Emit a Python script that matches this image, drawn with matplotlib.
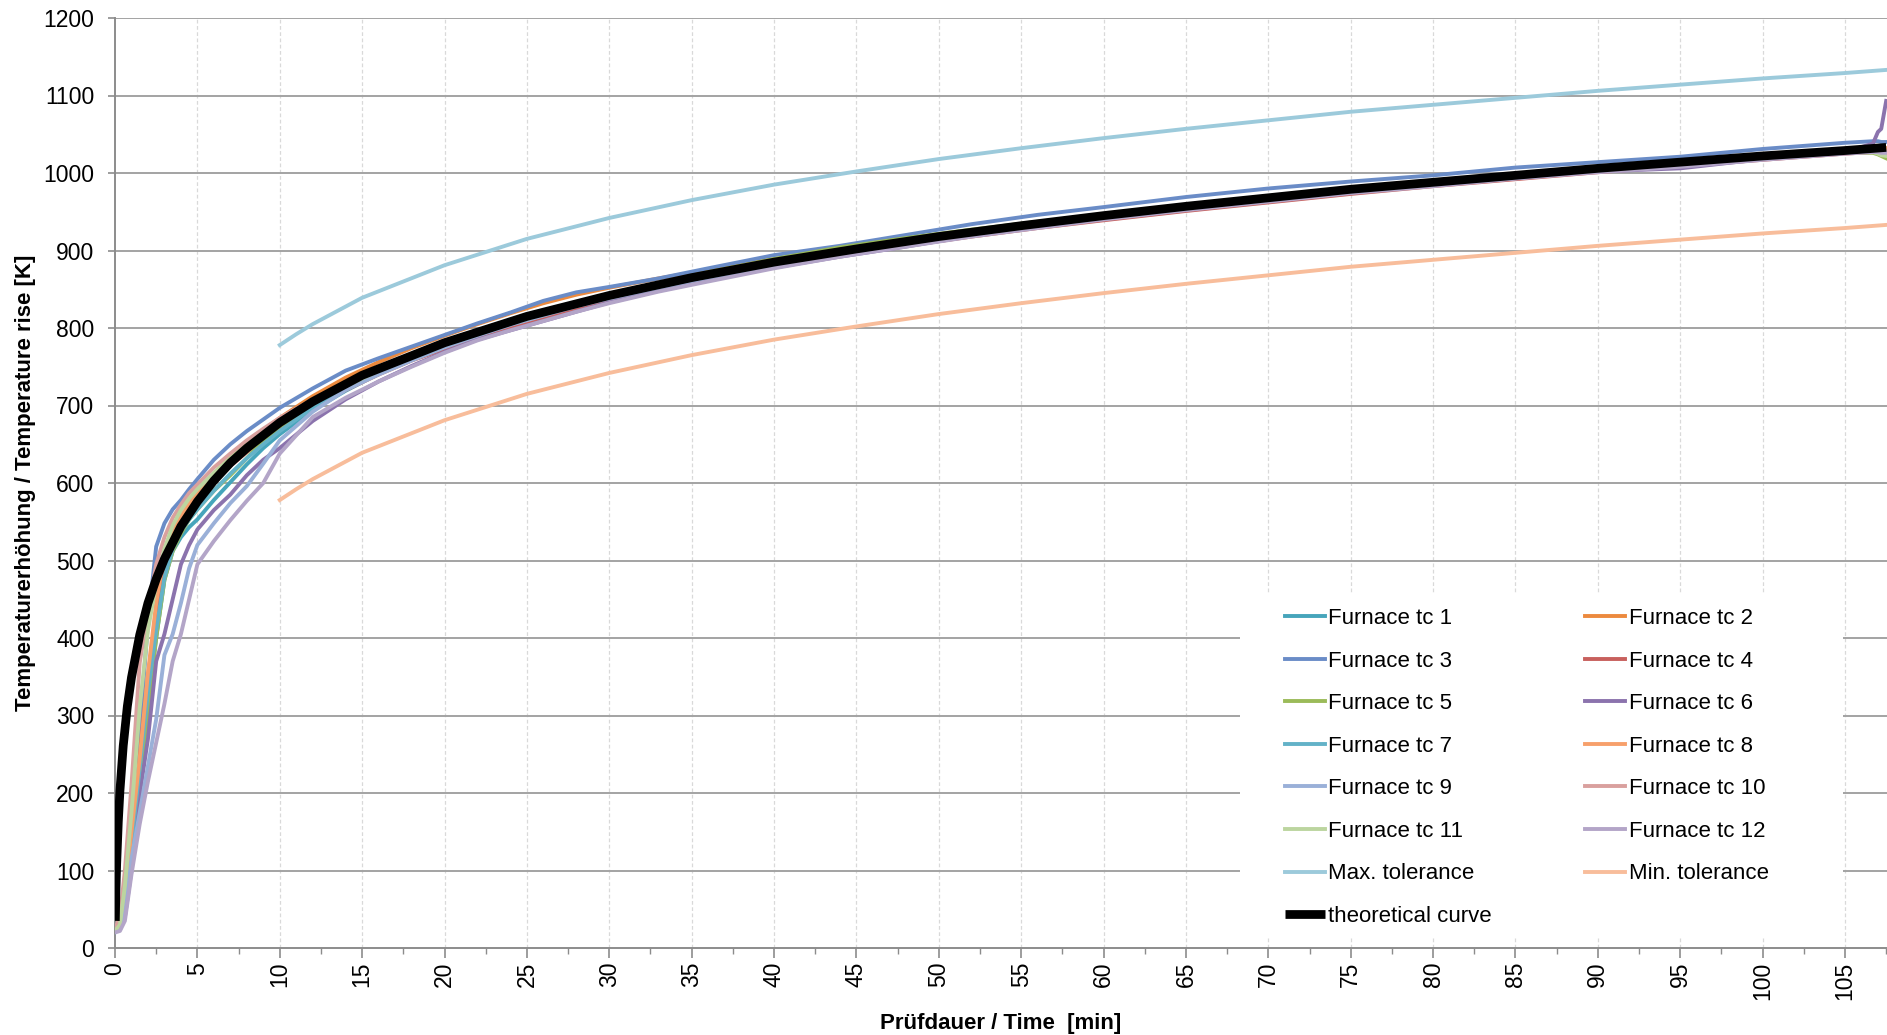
import matplotlib
matplotlib.use("Agg")
import matplotlib.pyplot as plt
from matplotlib.ticker import MultipleLocator
from matplotlib.patches import Rectangle

plt.rcParams['font.family'] = ['Liberation Sans', 'DejaVu Sans']

# ---------------- data ----------------
time_min = [0, 0.3, 0.6, 1, 1.5, 2, 2.5, 3, 3.5, 4, 4.5, 5, 6, 7, 8, 9, 10, 12, 14, 16,
            18, 20, 22, 24, 26, 28, 30, 33, 36, 40, 44, 48, 52, 56, 60, 65, 70, 75, 80, 85,
            90, 95, 100, 105, 106.7, 107.0, 107.2, 107.5]

tc1 = [20, 26, 60, 130, 225, 320, 400, 475, 512, 530, 543, 553, 578, 601, 624, 645, 663, 694, 719, 741,
       760, 777, 792, 806, 818, 830, 840, 855, 868, 883, 897, 910, 922, 933, 943, 955, 966, 977, 986, 995,
       1004, 1012, 1020, 1027, 1029, 1029, 1028, 1027]
tc2 = [21, 27, 65, 140, 240, 345, 435, 500, 532, 555, 572, 587, 612, 633, 652, 668, 684, 712, 736, 756,
       774, 790, 805, 819, 832, 843, 852, 864, 875, 889, 901, 913, 925, 936, 946, 957, 968, 979, 988, 997,
       1006, 1014, 1022, 1029, 1031, 1031, 1032, 1032]
tc3 = [22, 25, 55, 135, 280, 420, 518, 548, 566, 578, 592, 605, 630, 650, 667, 682, 697, 722, 745, 761,
       776, 791, 806, 820, 835, 846, 853, 864, 877, 894, 906, 920, 934, 946, 956, 969, 980, 989, 997, 1007,
       1014, 1021, 1031, 1039, 1041, 1041, 1040, 1040]
tc4 = [21, 28, 68, 145, 250, 350, 430, 490, 525, 548, 565, 578, 602, 622, 640, 657, 671, 698, 720, 740,
       758, 773, 788, 801, 813, 825, 835, 850, 863, 879, 893, 906, 918, 929, 939, 951, 962, 973, 983, 992,
       1001, 1009, 1017, 1025, 1027, 1027, 1026, 1026]
tc5 = [22, 26, 55, 125, 215, 305, 400, 475, 512, 535, 553, 566, 590, 610, 632, 655, 673, 700, 721, 742,
       761, 778, 793, 807, 820, 832, 843, 858, 872, 889, 904, 916, 927, 937, 946, 957, 968, 978, 987, 996,
       1004, 1012, 1020, 1027, 1026, 1024, 1022, 1019]
tc6 = [22, 24, 40, 100, 198, 270, 370, 405, 450, 495, 520, 540, 565, 585, 610, 630, 645, 680, 708, 731,
       751, 769, 785, 797, 809, 821, 833, 848, 861, 878, 892, 905, 919, 930, 941, 953, 964, 975, 984, 994,
       1002, 1006, 1018, 1027, 1038, 1053, 1057, 1093]
tc7 = [22, 27, 62, 135, 232, 330, 410, 478, 515, 538, 553, 566, 590, 612, 632, 650, 667, 697, 721, 743,
       762, 779, 794, 807, 819, 831, 841, 855, 868, 884, 898, 911, 923, 934, 944, 956, 967, 977, 987, 996,
       1005, 1013, 1021, 1028, 1030, 1030, 1029, 1029]
tc8 = [22, 28, 70, 150, 245, 355, 445, 510, 538, 557, 573, 586, 609, 629, 647, 663, 677, 703, 727, 747,
       765, 781, 795, 809, 821, 832, 842, 856, 868, 884, 898, 911, 923, 934, 944, 956, 967, 978, 987, 996,
       1005, 1013, 1021, 1028, 1030, 1030, 1031, 1031]
tc9 = [22, 24, 45, 115, 175, 235, 295, 378, 405, 445, 490, 520, 548, 574, 596, 625, 655, 692, 720, 740,
       758, 775, 790, 804, 816, 828, 838, 852, 865, 881, 895, 908, 920, 931, 941, 953, 964, 975, 984, 993,
       1002, 1010, 1018, 1026, 1028, 1028, 1027, 1027]
tc10 = [25, 40, 100, 210, 368, 435, 495, 530, 555, 572, 587, 598, 620, 638, 655, 670, 684, 708, 730, 749,
        766, 781, 795, 808, 820, 831, 841, 855, 868, 884, 897, 910, 922, 933, 943, 955, 966, 977, 986, 995,
        1004, 1012, 1020, 1027, 1029, 1029, 1028, 1028]
tc11 = [22, 30, 80, 175, 310, 410, 470, 515, 545, 565, 580, 592, 613, 632, 649, 664, 678, 703, 725, 745,
        763, 779, 793, 806, 818, 830, 840, 854, 867, 883, 897, 910, 922, 933, 943, 955, 967, 977, 987, 996,
        1005, 1013, 1021, 1028, 1027, 1025, 1023, 1022]
tc12 = [20, 22, 35, 95, 160, 215, 265, 315, 370, 405, 450, 495, 525, 552, 577, 600, 638, 685, 710, 731,
        750, 768, 784, 797, 809, 821, 832, 847, 860, 877, 892, 905, 918, 929, 940, 952, 963, 974, 983, 993,
        1001, 1008, 1017, 1025, 1027, 1027, 1026, 1026]

tol_time = [10, 11, 12, 15, 20, 25, 30, 35, 40, 45, 50, 55, 60, 65, 70, 75, 80, 85, 90, 95, 100, 105, 107.5]
tol_max = [778, 792, 805, 839, 881, 915, 942, 965, 985, 1002, 1018, 1032, 1045, 1057, 1068, 1079, 1088,
           1097, 1106, 1114, 1122, 1129, 1133]
tol_min = [578, 592, 605, 639, 681, 715, 742, 765, 785, 802, 818, 832, 845, 857, 868, 879, 888,
           897, 906, 914, 922, 929, 933]

theory_time = [0.02, 0.05, 0.1, 0.2, 0.3, 0.5, 0.75, 1, 1.5, 2, 2.5, 3, 4, 5, 6, 7, 8, 10, 12, 15, 20,
               25, 30, 35, 40, 45, 50, 55, 60, 65, 70, 75, 80, 85, 90, 95, 100, 105, 107.5]
theory = [35, 70, 108, 163, 203, 261, 312, 349, 404, 445, 476, 502, 544, 576, 603, 626, 645, 678, 705,
          739, 781, 815, 842, 865, 885, 902, 918, 932, 945, 957, 968, 979, 988, 997, 1006, 1014, 1022,
          1029, 1033]

series_labels = ["Furnace tc %d" % i for i in range(1, 13)]
series_values = [tc1, tc2, tc3, tc4, tc5, tc6, tc7, tc8, tc9, tc10, tc11, tc12]
series_colors = ['#46a5bb', '#ec8a3e', '#6a8cc7', '#c8605d', '#9bbb59', '#8b73ad',
                 '#63b2c8', '#f7a06b', '#9ab0d8', '#d9a09e', '#bcd59f', '#b3a5c8']

x_ticks = list(range(0, 110, 5))
y_ticks = list(range(0, 1300, 100))

# ---------------- figure ----------------
W, H = 1887, 1035
fig = plt.figure(figsize=(W / 100, H / 100), dpi=100)
ax = fig.add_axes([115 / W, 1 - 948 / H, 1 - 115 / W, (948 - 18) / H])

ax.set_axisbelow(True)
for yv in y_ticks[1:]:
    ax.axhline(yv, color='#a3a3a3', lw=1.4, zorder=0.5)
for xv in x_ticks[1:]:
    ax.axvline(xv, color='#d9d9d9', lw=0.9, ls=(0, (3, 2)), zorder=0.4)

for lab, vals, col in zip(series_labels, series_values, series_colors):
    ax.plot(time_min, vals, color=col, lw=2.8, label=lab, solid_joinstyle='round', zorder=2)
ax.plot(tol_time, tol_max, color='#9ccadb', lw=2.8, label='Max. tolerance', zorder=2)
ax.plot(tol_time, tol_min, color='#f8bd9b', lw=2.8, label='Min. tolerance', zorder=2)
ax.plot(theory_time, theory, color='black', lw=6.3, label='theoretical curve', zorder=3,
        solid_capstyle='butt')

ax.set_xlim(0, 107.55)
ax.set_ylim(0, 1200)
ax.set_xticks(x_ticks)
ax.xaxis.set_minor_locator(MultipleLocator(2.5))
ax.set_yticks(y_ticks)

for s in ['top', 'right']:
    ax.spines[s].set_visible(False)
for s in ['left', 'bottom']:
    ax.spines[s].set_color('#8c8c8c')
    ax.spines[s].set_linewidth(1.4)
    ax.spines[s].set_zorder(1)

ax.tick_params(axis='x', which='major', direction='out', length=7, width=1.2, color='#8c8c8c',
               labelsize=16.5, pad=3, labelrotation=90)
ax.tick_params(axis='x', which='minor', direction='out', length=4.5, width=1.0, color='#8c8c8c')
ax.tick_params(axis='y', which='major', direction='out', length=5, width=1.2, color='#8c8c8c',
               labelsize=16.5, pad=10)
for t in ax.get_xticklabels():
    t.set_va('top')
    t.set_ha('center')

fig.text(1001 / W, 1 - 1023 / H, 'Prüfdauer / Time  [min]', ha='center', va='center',
         fontsize=16, fontweight='bold')
fig.text(26 / W, 1 - 483 / H, 'Temperaturerhöhung / Temperature rise [K]', ha='center', va='center',
         rotation=90, fontsize=16, fontweight='bold')

# legend background box
bg = Rectangle((1240 / W, 1 - 937 / H), (1843 - 1240) / W, (937 - 593) / H,
               transform=fig.transFigure, facecolor='white', edgecolor='none', zorder=1.5)
ax.add_patch(bg)

handles, labels = ax.get_legend_handles_labels()
# row-major order for a two-column legend
order = list(range(0, len(handles), 2)) + list(range(1, len(handles), 2))
handles = [handles[i] for i in order]
labels = [labels[i] for i in order]
leg = ax.legend(handles, labels, ncol=2, loc='upper left',
                bbox_to_anchor=(1285 / W, 1 - 608 / H), bbox_transform=fig.transFigure,
                frameon=False, fontsize=16, handlelength=1.8, handletextpad=0.15,
                labelspacing=0.97, columnspacing=4.2, borderpad=0, borderaxespad=0)

fig.savefig('out.png', dpi=100)
